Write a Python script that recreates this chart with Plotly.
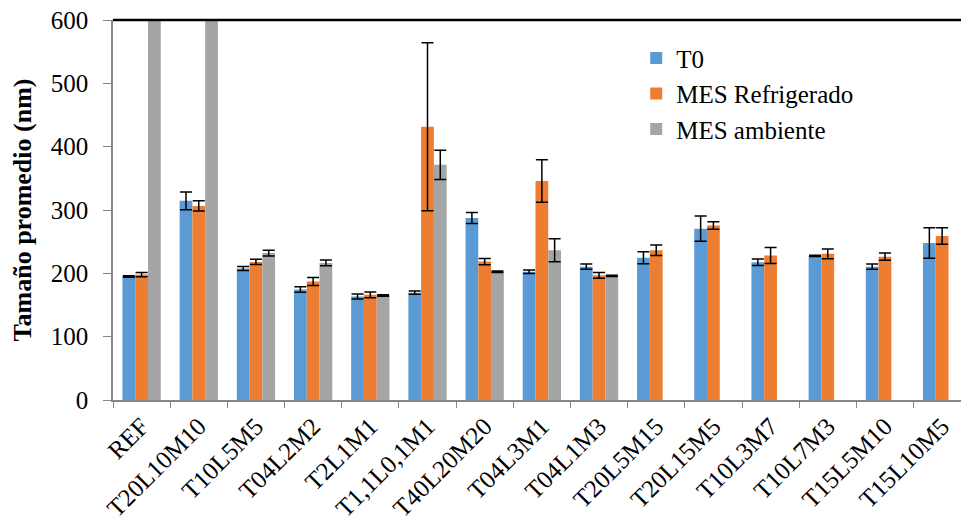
import plotly.graph_objects as go

categories = ["REF", "T20L10M10", "T10L5M5", "T04L2M2", "T2L1M1", "T1,1L0,1M1",
              "T40L20M20", "T04L3M1", "T04L1M3", "T20L5M15", "T20L15M5",
              "T10L3M7", "T10L7M3", "T15L5M10", "T15L10M5"]

t0 = [195, 314.5, 207.5, 174.5, 163.5, 169.5, 287.5, 202.5, 210.5, 224.5, 270.5,
      217.5, 227.5, 210.5, 248]
t0_err = [1, 14, 3.2, 4.5, 4, 2.6, 8.7, 2.6, 4.2, 9.5, 20, 5, 1, 4.2, 24]

mes_ref = [198, 306.5, 218, 187, 166, 431.5, 218.5, 345.8, 196.8, 236.5, 275.5,
           228, 230.8, 226.3, 259]
mes_ref_err = [3.5, 8, 4.2, 6.3, 4.7, 132.6, 5, 33.7, 4.7, 8.2, 6,
               12.6, 7.6, 5.8, 13]

mes_amb = [1050, 980, 232, 216.5, 165, 371.3, 202.5, 236.6, 196, None, None,
           None, None, None, None]
mes_amb_err = [0, 0, 4.5, 4.5, 1, 23, 1, 18.2, 1, 0, 0, 0, 0, 0, 0]

series = [
    ("T0", t0, t0_err, "#5B9BD5"),
    ("MES Refrigerado", mes_ref, mes_ref_err, "#ED7D31"),
    ("MES ambiente", mes_amb, mes_amb_err, "#A5A5A5"),
]

FONT = "Times New Roman, Liberation Serif, DejaVu Serif, serif"
FS = 25

fig = go.Figure()
for i, (name, vals, errs, color) in enumerate(series):
    fig.add_trace(go.Bar(
        name=name, x=categories, y=vals,
        marker=dict(color=color, line=dict(width=0)),
        error_y=dict(type="data", array=errs, symmetric=True,
                     color="black", thickness=1.5, width=6),
        legendgroup=f"g{i}",
    ))

fig.update_layout(
    width=961, height=527,
    margin=dict(l=113, r=0, t=20, b=127),
    paper_bgcolor="white", plot_bgcolor="white",
    barmode="group", bargap=0.33, bargroupgap=0,
    font=dict(family=FONT, size=FS, color="black"),
    showlegend=True,
    legend=dict(x=0.617, y=0.96, xanchor="left", yanchor="top",
                font=dict(family=FONT, size=FS, color="black"),
                bgcolor="rgba(0,0,0,0)", tracegroupgap=0,
                itemwidth=30),
    xaxis=dict(
        type="category", range=[-0.5, 14.33],
        showline=True, linecolor="#868686", linewidth=1.5,
        ticks="outside", tickson="boundaries", ticklen=6,
        tickcolor="#868686", tickwidth=1,
        tickangle=-45, tickfont=dict(family=FONT, size=FS, color="black"),
        showgrid=False, zeroline=False,
    ),
    yaxis=dict(
        range=[0, 600], tickvals=[0, 100, 200, 300, 400, 500, 600],
        showline=True, linecolor="#868686", linewidth=1.5,
        ticks="outside", ticklen=8, tickcolor="#868686", tickwidth=1,
        ticklabelstandoff=10,
        tickfont=dict(family=FONT, size=FS, color="black"),
        showgrid=False, zeroline=False,
        title=dict(text="<b>Tamaño promedio (nm)</b>",
                   font=dict(family=FONT, size=26, color="black"),
                   standoff=12),
    ),
)

# top border of the plotting area
fig.add_shape(type="line", xref="paper", yref="paper", x0=0, x1=1, y0=1, y1=1,
              line=dict(color="black", width=2.5))

fig.write_html("out.html")
